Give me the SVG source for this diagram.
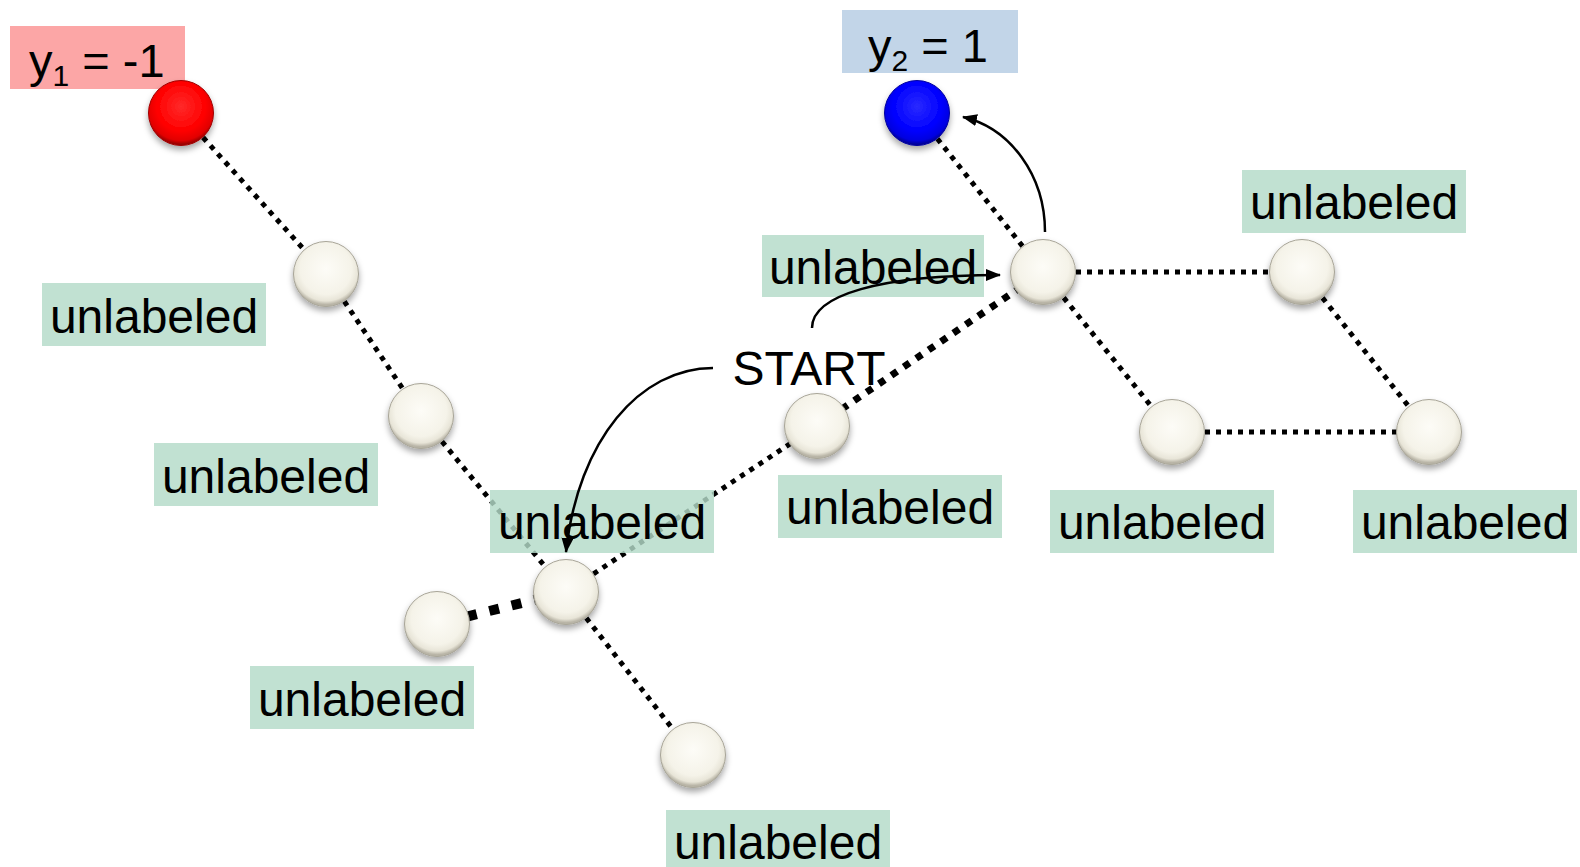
<svg xmlns="http://www.w3.org/2000/svg" width="1580" height="867" viewBox="0 0 1580 867">
  <style>
    .lbl { font-family: "Liberation Sans", Arial, sans-serif; font-size: 48px; fill: #000; text-anchor: middle; }
    .ylbl { font-family: "Liberation Sans", Arial, sans-serif; font-size: 47px; fill: #000; }
    .box { fill: #b3dbc8; fill-opacity: 0.82; }
    .edge { stroke: #000; fill: none; stroke-width: 5; stroke-dasharray: 5 6; }
    .edge-bold { stroke: #000; fill: none; stroke-width: 7; stroke-dasharray: 7 8; }
    .edge-heavy { stroke: #000; fill: none; stroke-width: 10; stroke-dasharray: 10 13; }
    .arrow { stroke: #000; fill: none; stroke-width: 2.5; marker-end: url(#head); }
    .ball { fill: url(#cream); stroke: #a8a598; stroke-width: 1; filter: url(#shadow); }
  </style>
  <defs>
    <radialGradient id="cream" cx="50%" cy="42%" r="55%">
      <stop offset="0%" stop-color="#fdfcf7"/>
      <stop offset="72%" stop-color="#f5f3e9"/>
      <stop offset="90%" stop-color="#e8e5d8"/>
      <stop offset="100%" stop-color="#b9b5a7"/>
    </radialGradient>
    <radialGradient id="redball" cx="50%" cy="40%" r="58%">
      <stop offset="0%" stop-color="#ff2a2a"/>
      <stop offset="65%" stop-color="#ff0000"/>
      <stop offset="90%" stop-color="#e20000"/>
      <stop offset="100%" stop-color="#9a0000"/>
    </radialGradient>
    <radialGradient id="blueball" cx="50%" cy="40%" r="58%">
      <stop offset="0%" stop-color="#2a2aff"/>
      <stop offset="65%" stop-color="#0000ff"/>
      <stop offset="90%" stop-color="#0000e0"/>
      <stop offset="100%" stop-color="#00009a"/>
    </radialGradient>
    <filter id="shadow" x="-30%" y="-30%" width="160%" height="170%">
      <feDropShadow dx="0" dy="4" stdDeviation="3" flood-color="#000" flood-opacity="0.35"/>
    </filter>
    <marker id="head" markerUnits="userSpaceOnUse" markerWidth="16" markerHeight="14" refX="14" refY="6" orient="auto">
      <path d="M0,0 L15,6 L0,12 z" fill="#000"/>
    </marker>
  </defs>

  <!-- dotted graph edges -->
  <g id="connectors">
    <line class="edge" x1="181" y1="113" x2="326" y2="274"/>
    <line class="edge" x1="326" y1="274" x2="421" y2="416"/>
    <line class="edge" x1="421" y1="416" x2="566" y2="592"/>
    <line class="edge" x1="566" y1="592" x2="693" y2="755"/>
    <line class="edge-heavy" x1="566" y1="592" x2="437" y2="624"/>
    <line class="edge" x1="566" y1="592" x2="817" y2="426"/>
    <line class="edge-bold" x1="817" y1="426" x2="1043" y2="272"/>
    <line class="edge" x1="1043" y1="272" x2="917" y2="113"/>
    <line class="edge" x1="1043" y1="272" x2="1302" y2="272"/>
    <line class="edge" x1="1043" y1="272" x2="1172" y2="432"/>
    <line class="edge" x1="1302" y1="272" x2="1429" y2="432"/>
    <line class="edge" x1="1172" y1="432" x2="1429" y2="432"/>
  </g>

  <!-- labelled end points -->
  <g id="node-y1">
    <rect x="10" y="26" width="175" height="63" fill="#fca6a6"/>
    <text class="ylbl" x="29" y="77">y<tspan font-size="30" dy="9">1</tspan><tspan dy="-9"> = -1</tspan></text>
    <circle cx="181" cy="113" r="32.5" fill="url(#redball)" stroke="#a00000" stroke-width="1" filter="url(#shadow)"/>
  </g>
  <g id="node-y2">
    <rect x="842" y="10" width="176" height="63" fill="#c2d5e8"/>
    <text class="ylbl" x="868" y="62">y<tspan font-size="30" dy="9">2</tspan><tspan dy="-9"> = 1</tspan></text>
    <circle cx="917" cy="113" r="32.5" fill="url(#blueball)" stroke="#0000a0" stroke-width="1" filter="url(#shadow)"/>
  </g>

  <!-- unlabeled points -->
  <g id="node-u1">
    <circle class="ball" cx="326" cy="274" r="32.5"/>
    <rect class="box" x="42" y="283" width="224" height="63"/>
    <text class="lbl" x="154" y="333">unlabeled</text>
  </g>
  <g id="node-u2">
    <circle class="ball" cx="421" cy="416" r="32.5"/>
    <rect class="box" x="154" y="443" width="224" height="63"/>
    <text class="lbl" x="266" y="493">unlabeled</text>
  </g>
  <g id="node-u3">
    <circle class="ball" cx="566" cy="592" r="32.5"/>
    <rect class="box" x="490" y="490" width="224" height="63"/>
    <text class="lbl" x="602" y="539">unlabeled</text>
  </g>
  <g id="node-u4">
    <circle class="ball" cx="437" cy="624" r="32.5"/>
    <rect class="box" x="250" y="666" width="224" height="63"/>
    <text class="lbl" x="362" y="716">unlabeled</text>
  </g>
  <g id="node-u5">
    <circle class="ball" cx="693" cy="755" r="32.5"/>
    <rect class="box" x="666" y="810" width="224" height="63"/>
    <text class="lbl" x="778" y="859">unlabeled</text>
  </g>
  <g id="node-u6">
    <circle class="ball" cx="817" cy="426" r="32.5"/>
    <rect class="box" x="778" y="475" width="224" height="63"/>
    <text class="lbl" x="890" y="524">unlabeled</text>
  </g>
  <g id="node-u7">
    <circle class="ball" cx="1043" cy="272" r="32.5"/>
    <rect class="box" x="762" y="235" width="222" height="62"/>
    <text class="lbl" x="873" y="284">unlabeled</text>
  </g>
  <g id="node-u8">
    <circle class="ball" cx="1302" cy="272" r="32.5"/>
    <rect class="box" x="1242" y="170" width="224" height="63"/>
    <text class="lbl" x="1354" y="219">unlabeled</text>
  </g>
  <g id="node-u9">
    <circle class="ball" cx="1172" cy="432" r="32.5"/>
    <rect class="box" x="1050" y="490" width="224" height="63"/>
    <text class="lbl" x="1162" y="539">unlabeled</text>
  </g>
  <g id="node-u10">
    <circle class="ball" cx="1429" cy="432" r="32.5"/>
    <rect class="box" x="1353" y="490" width="224" height="63"/>
    <text class="lbl" x="1465" y="539">unlabeled</text>
  </g>

  <!-- start marker and walk arrows -->
  <g id="start">
    <text class="lbl" x="809" y="385" font-size="47">START</text>
  </g>
  <g id="walk-arrows">
    <path class="arrow" d="M713,368 C640,368 578,440 566,552"/>
    <path class="arrow" d="M812,328 C812,295 880,275 1000,275"/>
    <path class="arrow" d="M1045,232 C1045,175 1010,128 963,117"/>
  </g>
</svg>
